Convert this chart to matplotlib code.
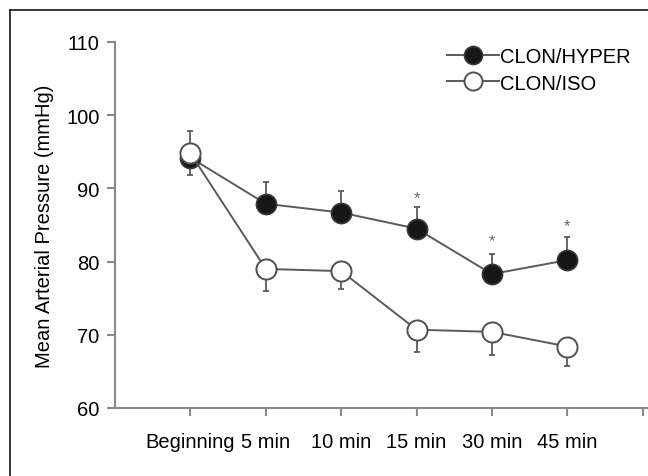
import numpy as np
import matplotlib
matplotlib.use("Agg")
import matplotlib.pyplot as plt
from matplotlib.lines import Line2D

# =================================================
# DATA
# =================================================
categories = ["Beginning", "5 min", "10 min", "15 min", "30 min", "45 min"]
hyper_mean = [94.2, 87.9, 86.7, 84.5, 78.3, 80.2]
hyper_err = [3.6, 3.0, 3.0, 2.9, 2.8, 3.2]
iso_mean = [94.8, 79.0, 78.7, 70.7, 70.4, 68.4]
iso_err = [3.0, 3.0, 2.5, 3.1, 3.1, 2.7]
star_idx = [3, 4, 5]
star_y = [88.8, 82.8, 84.9]

# =================================================
# STYLE
# =================================================
plt.rcParams["font.family"] = ["Liberation Sans", "DejaVu Sans"]
FS = 14.5
AXIS_C = "#8a8a8a"
LINE_C = "#5a5a5a"

fig = plt.figure(figsize=(6.48, 4.77), dpi=100)
ax = fig.add_axes([115 / 648, 68 / 477, 533 / 648, 366 / 477])

x = np.arange(1, len(categories) + 1)
zeros = np.zeros(len(x))

# error bars, one sided
ax.errorbar(x, hyper_mean, yerr=[zeros, hyper_err], fmt="none",
            ecolor=LINE_C, elinewidth=1.3, capsize=2.5, capthick=1.3, zorder=2)
ax.errorbar(x, iso_mean, yerr=[iso_err, zeros], fmt="none",
            ecolor=LINE_C, elinewidth=1.3, capsize=2.5, capthick=1.3, zorder=2)

ax.plot(x, hyper_mean, color=LINE_C, lw=1.4, marker="o", ms=14.5,
        mfc="#161616", mec="#3a3a3a", mew=1.2, zorder=3)
ax.plot(x, iso_mean, color=LINE_C, lw=1.4, marker="o", ms=14.5,
        mfc="white", mec="#505050", mew=1.4, zorder=4)

for i, yv in zip(star_idx, star_y):
    ax.text(x[i], yv, "*", ha="center", va="center", fontsize=12,
            color="#666666", zorder=5)

# axes
ax.set_xlim(0, 7.07)
ax.set_ylim(60, 110)
ax.set_yticks(np.arange(60, 111, 10))
ax.set_xticks(list(x) + [7])
ax.set_xticklabels(categories + [""])

for s in ["top", "right"]:
    ax.spines[s].set_visible(False)
for s in ["left", "bottom"]:
    ax.spines[s].set_color(AXIS_C)
    ax.spines[s].set_linewidth(1.5)

ax.tick_params(axis="both", direction="out", length=6, width=1.5,
               color=AXIS_C, labelsize=FS, labelcolor="black")
ax.tick_params(axis="x", pad=11)
ax.tick_params(axis="y", pad=5)

ax.set_ylabel("Mean Arterial Pressure (mmHg)", fontsize=FS)
ax.yaxis.set_label_coords(-0.114, 0.5)

# legend
handles = [
    Line2D([], [], color=LINE_C, lw=1.4, marker="o", ms=13,
           mfc="#161616", mec="#3a3a3a", mew=1.2),
    Line2D([], [], color=LINE_C, lw=1.4, marker="o", ms=13,
           mfc="white", mec="#505050", mew=1.4),
]
ax.legend(handles, ["CLON/HYPER", "CLON/ISO"], loc="upper left",
          bbox_to_anchor=(0.623, 0.985), frameon=False, fontsize=FS,
          handlelength=2.6, handletextpad=0.05, labelspacing=0.35,
          borderpad=0, borderaxespad=0)

# outer frame (top and left only)
fig.add_artist(Line2D([10 / 648, 1.0], [466 / 477, 466 / 477],
                      transform=fig.transFigure, color="black", lw=1.1))
fig.add_artist(Line2D([10 / 648, 10 / 648], [0, 466 / 477],
                      transform=fig.transFigure, color="black", lw=1.1))

fig.savefig("out.png", dpi=100, facecolor="white")
